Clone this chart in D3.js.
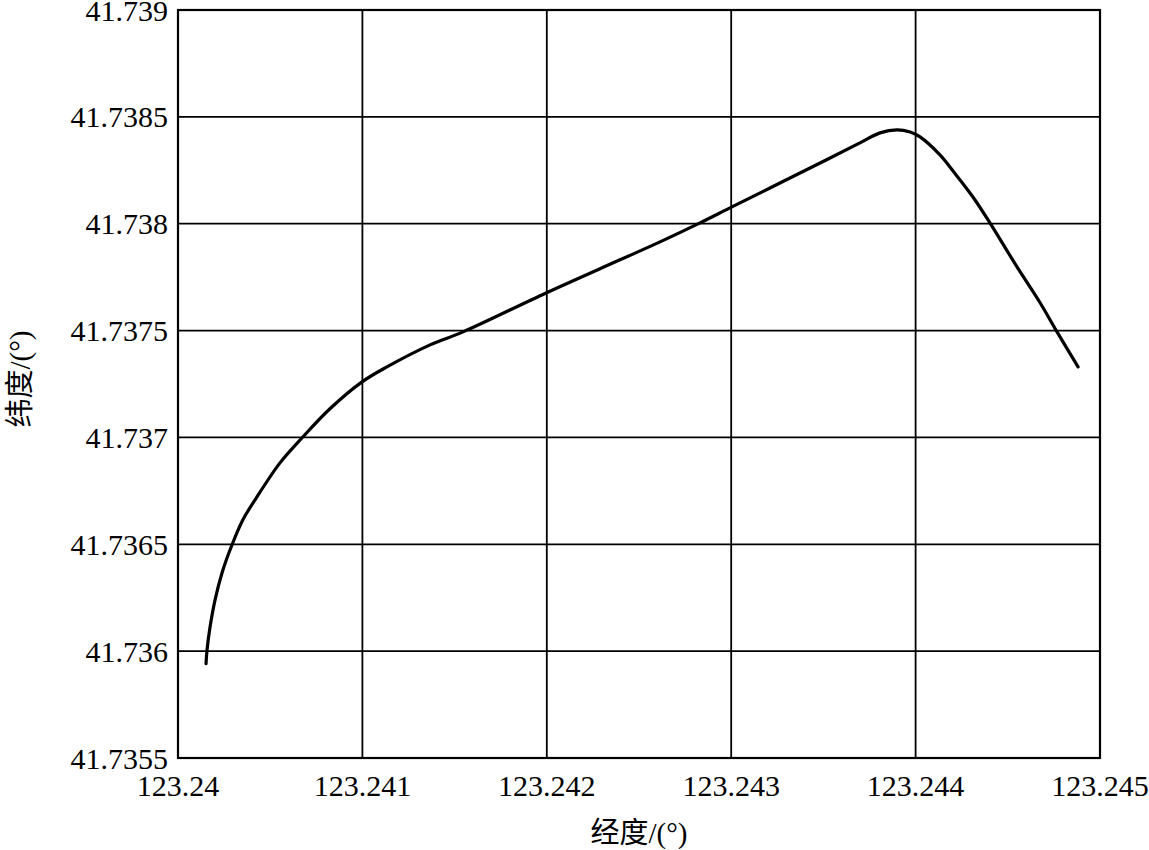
<!DOCTYPE html>
<html>
<head>
<meta charset="utf-8">
<script src="https://cdn.jsdelivr.net/npm/d3@7"></script>
<style>
  body { margin: 0; background: #fff; }
</style>
</head>
<body>
<div id="chart"></div>
<script>
// track data (longitude / latitude)
const lon = [123.240152, 123.240157, 123.240174, 123.240201, 123.240239, 123.240293, 123.240352,
  123.240418, 123.240553, 123.240678, 123.240824, 123.240998, 123.241133, 123.241367, 123.241546,
  123.241996, 123.242397, 123.242614, 123.242831, 123.242993, 123.24321, 123.243482, 123.243698,
  123.243807, 123.243899, 123.24397, 123.244024, 123.244132, 123.244203, 123.244311, 123.244403,
  123.24455, 123.244675, 123.244767, 123.244881];
const lat = [41.735941, 41.736002, 41.736114, 41.73624, 41.736367, 41.736498, 41.736615,
  41.736708, 41.736881, 41.737003, 41.737134, 41.73726, 41.73733, 41.737433, 41.737494,
  41.737676, 41.737831, 41.737915, 41.738004, 41.738074, 41.738167, 41.738284, 41.738378,
  41.738425, 41.738439, 41.738429, 41.738406, 41.738322, 41.738247, 41.738125, 41.738004,
  41.737798, 41.73763, 41.737494, 41.73733];

const xTicks = [123.24, 123.241, 123.242, 123.243, 123.244, 123.245];
const yTicks = [41.7355, 41.736, 41.7365, 41.737, 41.7375, 41.738, 41.7385, 41.739];
const xTickLabels = ["123.24", "123.241", "123.242", "123.243", "123.244", "123.245"];
const yTickLabels = ["41.7355", "41.736", "41.7365", "41.737", "41.7375", "41.738", "41.7385", "41.739"];

const serif = "'Liberation Serif', 'Noto Serif', 'DejaVu Serif', 'FreeSerif', 'Times New Roman', serif";

const width = 1149;
const height = 850;
const margin = { top: 10, right: 49, bottom: 92, left: 178 };

const svg = d3.select("#chart")
  .append("svg")
  .attr("width", width)
  .attr("height", height)
  .attr("font-family", serif);

const x = d3.scaleLinear()
  .domain([123.24, 123.245])
  .range([margin.left, width - margin.right]);

const y = d3.scaleLinear()
  .domain([41.7355, 41.739])
  .range([height - margin.bottom, margin.top]);

// grid lines
svg.append("g")
  .selectAll("line")
  .data(xTicks)
  .join("line")
    .attr("x1", d => x(d)).attr("x2", d => x(d))
    .attr("y1", y(41.7355)).attr("y2", y(41.739))
    .attr("stroke", "#000").attr("stroke-width", 1.8);

svg.append("g")
  .selectAll("line")
  .data(yTicks)
  .join("line")
    .attr("x1", x(123.24)).attr("x2", x(123.245))
    .attr("y1", d => y(d)).attr("y2", d => y(d))
    .attr("stroke", "#000").attr("stroke-width", 1.8);

// frame
svg.append("rect")
  .attr("x", x(123.24)).attr("y", y(41.739))
  .attr("width", x(123.245) - x(123.24))
  .attr("height", y(41.7355) - y(41.739))
  .attr("fill", "none").attr("stroke", "#000").attr("stroke-width", 2.2);

// tick labels
svg.append("g")
  .selectAll("text")
  .data(xTicks)
  .join("text")
    .attr("x", d => x(d))
    .attr("y", y(41.7355) + 38)
    .attr("text-anchor", "middle")
    .attr("font-family", serif)
    .attr("font-size", 30)
    .text((d, i) => xTickLabels[i]);

svg.append("g")
  .selectAll("text")
  .data(yTicks)
  .join("text")
    .attr("x", x(123.24) - 10)
    .attr("y", d => y(d))
    .attr("dy", "0.35em")
    .attr("text-anchor", "end")
    .attr("font-family", serif)
    .attr("font-size", 30)
    .text((d, i) => yTickLabels[i]);

// axis titles
const titleFont = "'Liberation Serif', 'Noto Serif', 'DejaVu Serif', 'Noto Sans CJK SC', serif";

svg.append("text")
  .attr("x", x(123.2425))
  .attr("y", 843)
  .attr("text-anchor", "middle")
  .attr("font-size", 29)
  .attr("font-family", titleFont)
  .text("经度/(°)");

svg.append("text")
  .attr("transform", "translate(30, 379) rotate(-90)")
  .attr("text-anchor", "middle")
  .attr("font-size", 29)
  .attr("font-family", titleFont)
  .text("纬度/(°)");

// the track
const line = d3.line()
  .x((d, i) => x(lon[i]))
  .y((d, i) => y(lat[i]))
  .curve(d3.curveCatmullRom);

svg.append("path")
  .datum(lon)
  .attr("d", line)
  .attr("fill", "none")
  .attr("stroke", "#000")
  .attr("stroke-width", 3.2)
  .attr("stroke-linecap", "round");
</script>
</body>
</html>
